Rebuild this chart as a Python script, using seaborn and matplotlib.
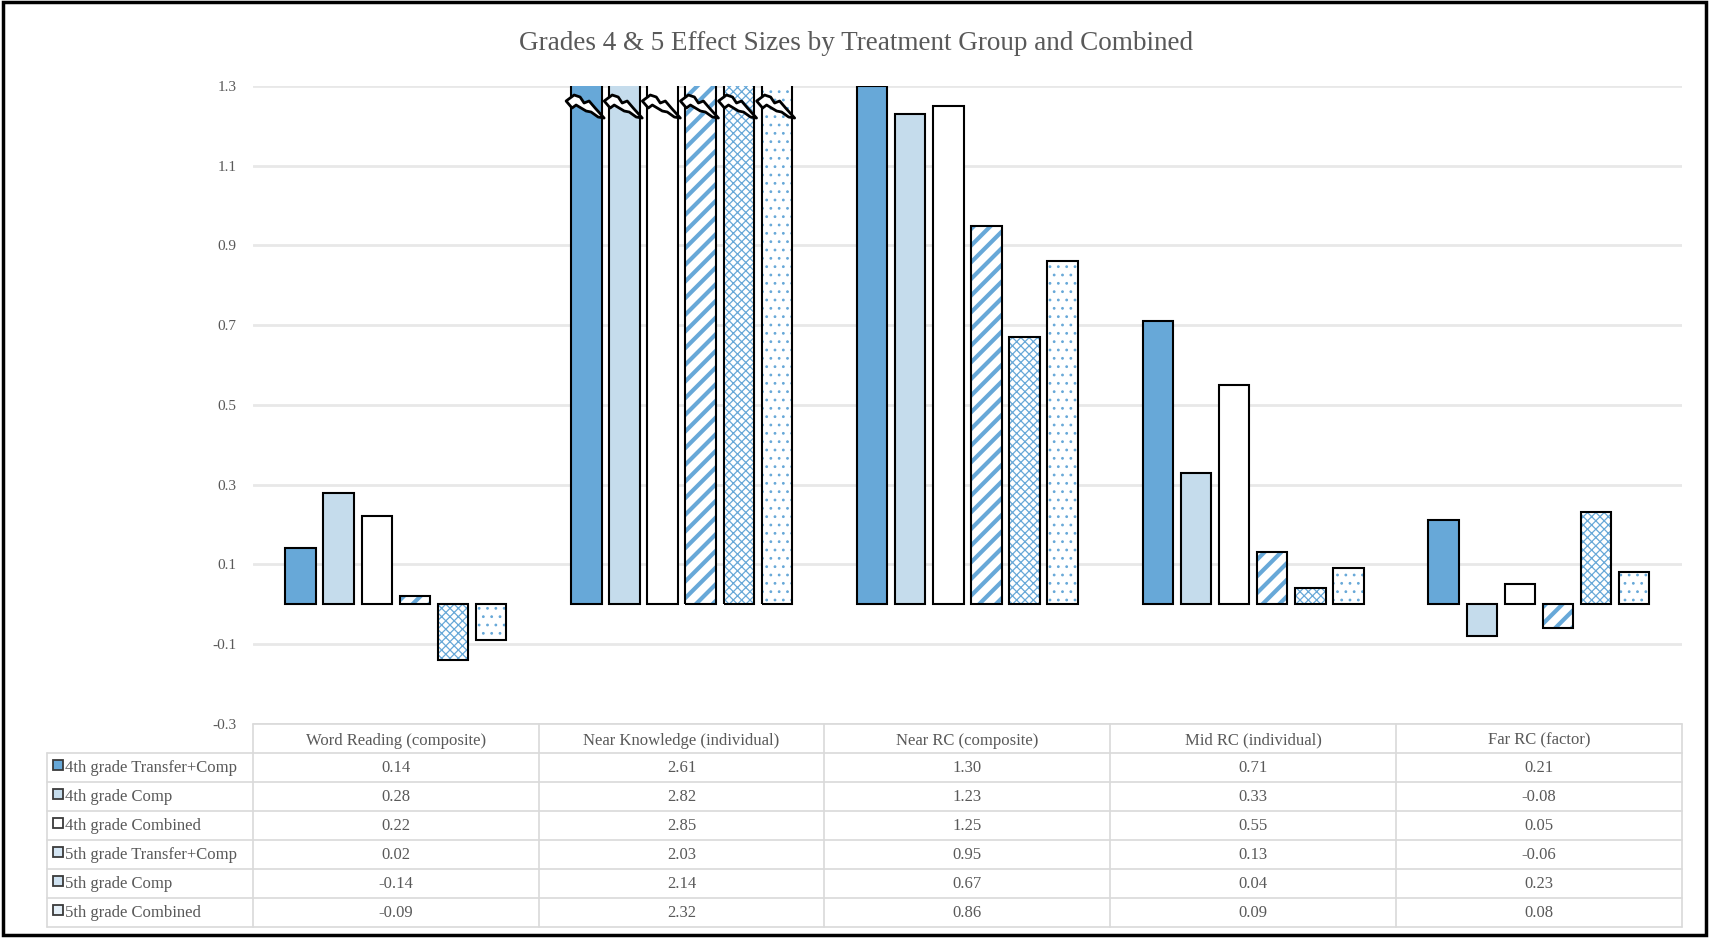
import numpy as np
import pandas as pd
import matplotlib
matplotlib.use("Agg")
import matplotlib.pyplot as plt
import matplotlib.transforms as mtransforms
from matplotlib.patches import Rectangle, Polygon
import seaborn as sns

# data
categories = ["Word Reading (composite)", "Near Knowledge (individual)",
              "Near RC (composite)", "Mid RC (individual)", "Far RC (factor)"]
groups = ["4th grade Transfer+Comp", "4th grade Comp", "4th grade Combined",
          "5th grade Transfer+Comp", "5th grade Comp", "5th grade Combined"]
g4_transfer = [0.14, 2.61, 1.30, 0.71, 0.21]
g4_comp = [0.28, 2.82, 1.23, 0.33, -0.08]
g4_combined = [0.22, 2.85, 1.25, 0.55, 0.05]
g5_transfer = [0.02, 2.03, 0.95, 0.13, -0.06]
g5_comp = [-0.14, 2.14, 0.67, 0.04, 0.23]
g5_combined = [-0.09, 2.32, 0.86, 0.09, 0.08]
series = [g4_transfer, g4_comp, g4_combined, g5_transfer, g5_comp, g5_combined]

blue = "#67a8d8"
light_blue = "#c5dcec"
face_colors = [blue, light_blue, "#ffffff", "#ffffff", "#ffffff", "#ffffff"]
hatches = [None, None, None, "//", "xxxx", ".."]
hatch_lws = [None, None, None, 3.0, 0.9, 0.8]
marker_faces = [blue, light_blue, "#ffffff", "#d4e5f3", "#cfe2f1", "#e4eff8"]
text_c = "#595959"
grid_c = "#d9d9d9"

y_top, y_bot = 1.3, -0.3

sns.set_theme(style="white")
plt.rcParams['font.family'] = ['Liberation Serif', 'DejaVu Serif']
plt.rcParams['hatch.linewidth'] = 3.0

df = pd.DataFrame({
    "measure": np.repeat([categories], len(groups), axis=0).ravel(),
    "group": np.repeat(groups, len(categories)),
    "value": np.concatenate(series),
})

fig = plt.figure(figsize=(17.09, 9.38), dpi=100)
ax = fig.add_axes([0.148, 0.2285, 0.8361, 0.6798])

sns.barplot(data=df, x="measure", y="value", hue="group", order=categories,
            hue_order=groups, palette=dict(zip(groups, face_colors)),
            width=0.8, gap=0.2, saturation=1, edgecolor="black",
            linewidth=1.5, legend=False, ax=ax)

ax.set_ylim(y_bot, y_top)
ax.set_xlim(-0.5, len(categories) - 0.5)
ticks = np.arange(y_bot, y_top + 0.01, 0.2)
ax.set_yticks(ticks)
ax.set_yticklabels([f"{t:.1f}" for t in ticks])
ax.set_xticks([])
ax.set_xlabel("")
ax.set_ylabel("")
ax.tick_params(axis="y", length=0, pad=12, labelsize=11, labelcolor=text_c)
for s in ax.spines.values():
    s.set_visible(False)
ax.set_axisbelow(True)
ax.yaxis.grid(True, color="#e8e8e8", lw=2)

# hatched series: hatch in blue, black outline drawn on top
# break mark (lightning) in pixels below the clipped top
bolt = np.array([(-5, 15), (3, 9), (9, 11), (13, 17), (18, 15), (24, 22), (33, 32),
                 (27, 31), (20, 26), (15, 25), (10, 22), (5, 19), (1, 22)])
for hi, cont in enumerate(ax.containers):
    for ci, bar in enumerate(cont):
        if hatches[hi]:
            bar.set_facecolor("white")
            bar.set_edgecolor(blue)
            bar.set_linewidth(0)
            bar.set_hatch(hatches[hi])
            if hasattr(bar, "set_hatch_linewidth"):
                bar.set_hatch_linewidth(hatch_lws[hi])
            ax.add_patch(Rectangle((bar.get_x(), bar.get_y()), bar.get_width(),
                                   bar.get_height(), fill=False, ec="black",
                                   lw=1.5, zorder=bar.get_zorder() + 0.1))
        if series[hi][ci] > y_top:
            tr = (mtransforms.Affine2D().scale(1, -1)
                  + mtransforms.ScaledTranslation(bar.get_x(), y_top, ax.transData))
            ax.add_patch(Polygon(bolt, closed=True, transform=tr, fc="white",
                                 ec="black", lw=2.0, joinstyle="round",
                                 zorder=5, clip_on=False))

# data table with legend keys
tax = fig.add_axes([0.0274, 0.0116, 0.9566, 0.2169])
left = -0.5 - 0.7208
tax.set_xlim(left, len(categories) - 0.5)
tax.set_ylim(len(groups) + 1, 0)
tax.axis("off")
for k in range(len(categories) + 1):
    tax.plot([k - 0.5, k - 0.5], [0, len(groups) + 1], color=grid_c, lw=1.2, clip_on=False)
tax.plot([left, left], [1, len(groups) + 1], color=grid_c, lw=1.2, clip_on=False)
tax.plot([-0.5, len(categories) - 0.5], [0, 0], color=grid_c, lw=1.2, clip_on=False)
for r in range(1, len(groups) + 2):
    tax.plot([left, len(categories) - 0.5], [r, r], color=grid_c, lw=1.2, clip_on=False)

for j, cat in enumerate(categories):
    tax.text(j, 0.58, cat, ha="center", va="center", fontsize=12, color=text_c)
for i, g in enumerate(groups):
    tax.plot(left + 0.038, i + 1.42, marker="s", ms=6.5, mfc=marker_faces[i],
             mec="#3a3a3a", mew=1.3, clip_on=False)
    tax.text(left + 0.063, i + 1.52, g, ha="left", va="center", fontsize=12, color=text_c)
    for j, v in enumerate(series[i]):
        tax.text(j, i + 1.52, f"{v:.2f}", ha="center", va="center", fontsize=12, color=text_c)

fig.text(0.5007, 0.9536, "Grades 4 & 5 Effect Sizes by Treatment Group and Combined",
         ha="center", va="center", fontsize=19.5, color=text_c)
fig.add_artist(Rectangle((0.0015, 0.003), 0.997, 0.9945, transform=fig.transFigure,
                         fill=False, ec="black", lw=2.5))

fig.savefig("out.png", dpi=100, facecolor="white")
